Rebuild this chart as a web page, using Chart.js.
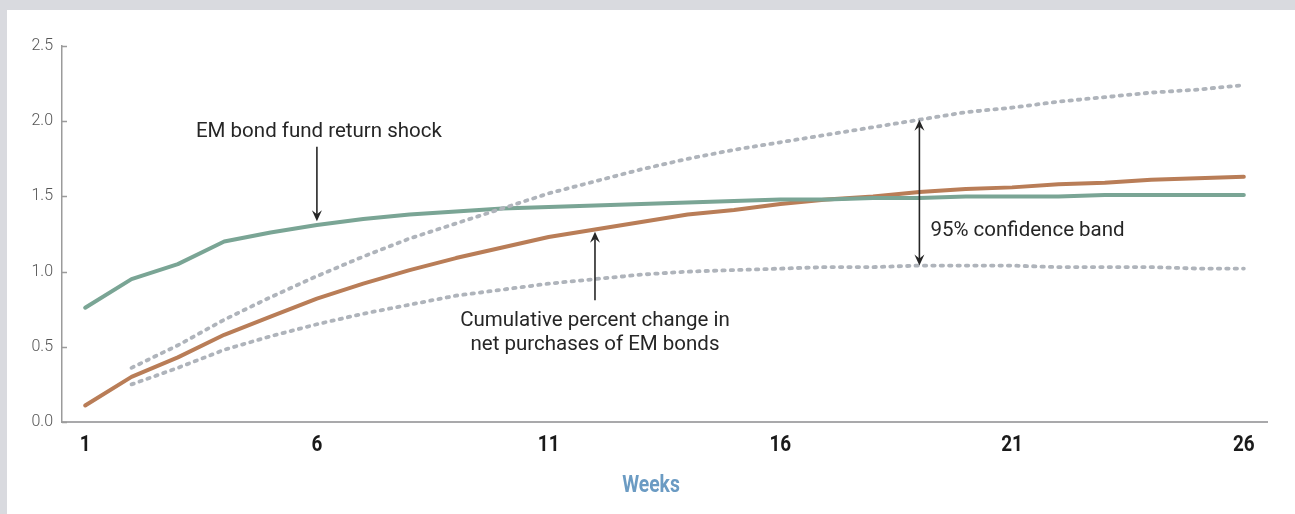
<!DOCTYPE html>
<html>
<head>
<meta charset="utf-8">
<script src="https://cdn.jsdelivr.net/npm/chart.js@4/dist/chart.umd.min.js"></script>
<style>
  html, body { margin: 0; padding: 0; }
  body { width: 1295px; height: 514px; background: #d9dadf; position: relative; overflow: hidden; }
  #panel { position: absolute; left: 7px; top: 10px; width: 1288px; height: 504px; background: #ffffff; }
  #wrap { position: absolute; left: 0; top: 0; width: 1295px; height: 514px; }
</style>
</head>
<body>
<div id="panel"></div>
<div id="wrap"><canvas id="c" width="1295" height="514"></canvas></div>
<script>
// Weeks after the shock
const weeks = [1,2,3,4,5,6,7,8,9,10,11,12,13,14,15,16,17,18,19,20,21,22,23,24,25,26];
const xTickValues = [1, 6, 11, 16, 21, 26];
const xTitle = 'Weeks';

// EM bond fund return shock
const returnShock = [0.76,0.95,1.05,1.20,1.26,1.31,1.35,1.38,1.40,1.42,1.43,1.44,1.45,1.46,1.47,1.48,1.48,1.49,1.49,1.50,1.50,1.50,1.51,1.51,1.51,1.51];

// Cumulative percent change in net purchases of EM bonds
const netPurchases = [0.11,0.30,0.43,0.58,0.70,0.82,0.92,1.01,1.09,1.16,1.23,1.28,1.33,1.38,1.41,1.45,1.48,1.50,1.53,1.55,1.56,1.58,1.59,1.61,1.62,1.63];

// 95% confidence band (starts in week 2)
const bandUpper = [null,0.36,0.51,0.68,0.83,0.97,1.10,1.22,1.32,1.42,1.52,1.60,1.68,1.75,1.81,1.86,1.91,1.96,2.01,2.06,2.09,2.13,2.16,2.19,2.21,2.24];
const bandLower = [null,0.25,0.36,0.48,0.57,0.65,0.72,0.78,0.84,0.88,0.92,0.95,0.98,1.00,1.01,1.02,1.03,1.03,1.04,1.04,1.04,1.03,1.03,1.03,1.02,1.02];

const yTickValues = [0, 0.5, 1.0, 1.5, 2.0, 2.5];

const toPoints = (vals) => weeks.map((w, i) => ({ x: w, y: vals[i] }));

const GREEN = '#7aa595';
const ORANGE = '#b97d57';
const BAND = '#afb4bb';
const INK = '#262626';
const TEXT_FONT = '400 20.5px Roboto';

// Callout labels and arrows, placed in data units
const callouts = {
  shock: { text: ['EM bond fund return shock'], week: 6, textY: 1.93, from: 1.83, to: 1.335 },
  purchases: { text: ['Cumulative percent change in', 'net purchases of EM bonds'], week: 12, textY: 0.67, lineGap: 0.155, from: 0.81, to: 1.265 },
  band: { text: ['95% confidence band'], week: 19, textY: 1.27, dx: 11 }
};

function arrowHead(ctx, x, y, dir) {
  // dir: -1 points up, +1 points down
  const len = 11, half = 5, notch = 4;
  ctx.beginPath();
  ctx.moveTo(x, y);
  ctx.lineTo(x - half, y - dir * len);
  ctx.lineTo(x, y - dir * (len - notch));
  ctx.lineTo(x + half, y - dir * len);
  ctx.closePath();
  ctx.fill();
}

// Narrow bold text: draw with a horizontal squeeze around its anchor
function narrowText(ctx, text, x, y, font, color, squeeze) {
  ctx.save();
  ctx.font = font;
  ctx.fillStyle = color;
  ctx.textAlign = 'center';
  ctx.textBaseline = 'middle';
  ctx.translate(x, y);
  ctx.scale(squeeze, 1);
  ctx.fillText(text, 0, 0);
  ctx.restore();
}

const annotationPlugin = {
  id: 'callouts',
  afterDatasetsDraw(chart) {
    const { ctx, scales: { x, y } } = chart;
    ctx.save();
    ctx.fillStyle = INK;
    ctx.strokeStyle = INK;
    ctx.lineWidth = 1.6;
    ctx.font = TEXT_FONT;
    ctx.textBaseline = 'middle';

    // Return shock label with arrow pointing down to the line
    const s = callouts.shock;
    const sx = x.getPixelForValue(s.week);
    ctx.textAlign = 'center';
    ctx.fillText(s.text[0], sx + 2, y.getPixelForValue(s.textY));
    const sTop = y.getPixelForValue(s.from), sTip = y.getPixelForValue(s.to);
    ctx.beginPath(); ctx.moveTo(sx, sTop); ctx.lineTo(sx, sTip - 6); ctx.stroke();
    arrowHead(ctx, sx, sTip, 1);

    // Net purchases label with arrow pointing up to the line
    const p = callouts.purchases;
    const px = x.getPixelForValue(p.week);
    p.text.forEach((t, i) => ctx.fillText(t, px, y.getPixelForValue(p.textY - i * p.lineGap)));
    const pBot = y.getPixelForValue(p.from), pTip = y.getPixelForValue(p.to);
    ctx.beginPath(); ctx.moveTo(px, pBot); ctx.lineTo(px, pTip + 6); ctx.stroke();
    arrowHead(ctx, px, pTip, -1);

    // Confidence band double arrow spanning the band
    const b = callouts.band;
    const bi = weeks.indexOf(b.week);
    const bx = x.getPixelForValue(b.week);
    const bTop = y.getPixelForValue(bandUpper[bi]), bBot = y.getPixelForValue(bandLower[bi]);
    ctx.beginPath(); ctx.moveTo(bx, bTop + 6); ctx.lineTo(bx, bBot - 6); ctx.stroke();
    arrowHead(ctx, bx, bTop, -1);
    arrowHead(ctx, bx, bBot, 1);
    ctx.textAlign = 'left';
    ctx.fillText(b.text[0], bx + b.dx, y.getPixelForValue(b.textY));

    ctx.restore();
  },
  afterDraw(chart) {
    const { ctx, scales: { x, y }, chartArea } = chart;
    // Short inward tick marks on the value axis
    ctx.save();
    ctx.strokeStyle = '#9b9b9b';
    ctx.lineWidth = 1.5;
    yTickValues.forEach(v => {
      const py = Math.round(y.getPixelForValue(v)) + 0.5;
      ctx.beginPath();
      ctx.moveTo(chartArea.left, py);
      ctx.lineTo(chartArea.left + 5, py);
      ctx.stroke();
    });
    ctx.restore();

    // Week labels and axis title in a narrow bold face
    const labelY = chartArea.bottom + 23;
    x.ticks.forEach(t => {
      narrowText(ctx, String(t.value), x.getPixelForValue(t.value), labelY, '700 22.5px Roboto', '#1a1a1a', 0.84);
    });
    narrowText(ctx, xTitle, (chart.width + 7) / 2, chartArea.bottom + 64, '700 23px Roboto', '#6b9bc3', 0.84);
  }
};

const solid = (label, vals, color) => ({
  label, data: toPoints(vals), borderColor: color, borderWidth: 4,
  pointRadius: 0, tension: 0, borderJoinStyle: 'round', borderCapStyle: 'round', fill: false
});
const dotted = (label, vals) => ({
  label, data: toPoints(vals), borderColor: BAND, borderWidth: 3.8,
  borderDash: [2.4, 6.0], borderCapStyle: 'round', borderJoinStyle: 'round',
  pointRadius: 0, tension: 0, fill: false, spanGaps: false
});

new Chart(document.getElementById('c'), {
  type: 'line',
  data: {
    datasets: [
      dotted('Upper bound', bandUpper),
      dotted('Lower bound', bandLower),
      solid('EM bond fund return shock', returnShock, GREEN),
      solid('Cumulative percent change in net purchases of EM bonds', netPurchases, ORANGE)
    ]
  },
  options: {
    responsive: false,
    animation: false,
    devicePixelRatio: 1,
    layout: { padding: { left: 0, right: 28, top: 46, bottom: 0 } },
    plugins: { legend: { display: false }, tooltip: { enabled: false } },
    scales: {
      x: {
        type: 'linear', min: 0.5, max: 26.5,
        afterBuildTicks: (scale) => { scale.ticks = xTickValues.map(v => ({ value: v })); },
        afterFit: (scale) => { scale.height = 92; },
        grid: { display: false, drawTicks: false },
        border: { display: true, color: '#a9a9ab', width: 2 },
        ticks: { display: false },
        title: { display: false, text: xTitle }
      },
      y: {
        type: 'linear', min: 0, max: 2.5,
        afterBuildTicks: (scale) => { scale.ticks = yTickValues.map(v => ({ value: v })); },
        afterFit: (scale) => { scale.width = 62; },
        grid: { display: false, drawTicks: false },
        border: { display: true, color: '#9b9b9b', width: 1.5 },
        ticks: {
          padding: 9, color: '#555555',
          font: { family: 'Roboto', size: 16, weight: '300' },
          callback: (v) => Number(v).toFixed(1)
        }
      }
    }
  },
  plugins: [annotationPlugin]
});
</script>
</body>
</html>
